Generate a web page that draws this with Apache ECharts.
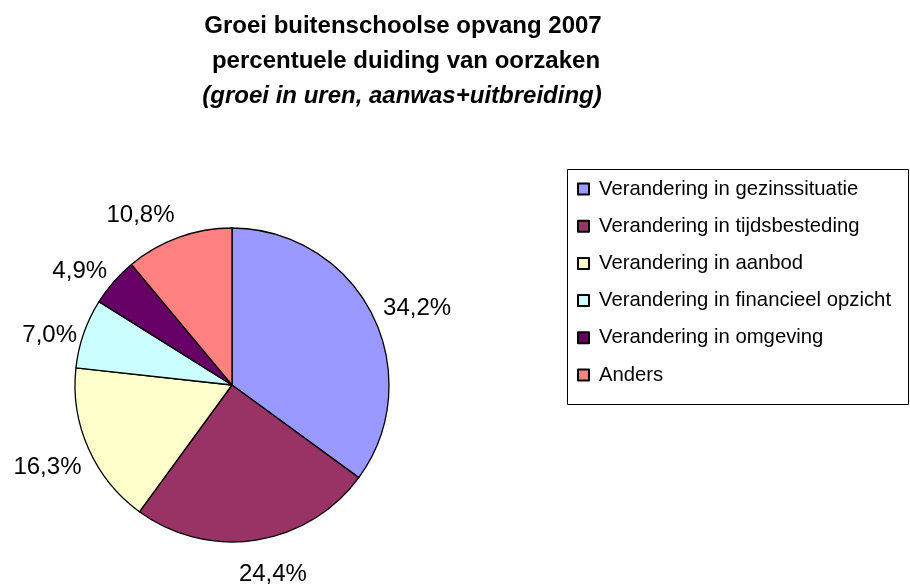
<!DOCTYPE html>
<html>
<head>
<meta charset="utf-8">
<script src="https://cdn.jsdelivr.net/npm/echarts@6/dist/echarts.min.js"></script>
<style>html,body{margin:0;padding:0;background:#fff;}#c{width:910px;height:588px;}</style>
</head>
<body>
<div id="c"></div>
<script>
const categories = [
  'Verandering in gezinssituatie',
  'Verandering in tijdsbesteding',
  'Verandering in aanbod',
  'Verandering in financieel opzicht',
  'Verandering in omgeving',
  'Anders'
];
const values = [34.2, 24.4, 16.3, 7.0, 4.9, 10.8];
const colors = ['#9999FF', '#993366', '#FFFFCC', '#CCFFFF', '#660066', '#FF8080'];
const titleLines = [
  'Groei buitenschoolse opvang 2007',
  'percentuele duiding van oorzaken',
  '(groei in uren, aanwas+uitbreiding)'
];

// label placement style (Excel-like outside-end labels)
const labelShiftDeg = [4.1, -3.4, 0, -3.7, -4.2, -8.3];
const labelOut = [43.8, 35.9, 44.7, 32.2, 33.5, 36.5];

const font = 'Arial, "Liberation Sans", Helvetica, sans-serif';
const pieCenter = [232, 385];
const pieRadius = 157;

const total = values.reduce((a, b) => a + b, 0);
const cum = [];
values.reduce((acc, v, i) => { cum[i] = acc; return acc + v; }, 0);

const chart = echarts.init(document.getElementById('c'), null, {renderer: 'canvas'});
chart.setOption({
  animation: false,
  backgroundColor: '#fff',
  color: colors,
  title: [
    {text: titleLines[0], left: 398, top: 9, textAlign: 'center',
     textStyle: {fontFamily: font, fontSize: 24, fontWeight: 'bold', color: '#000'}},
    {text: titleLines[1], left: 401, top: 44, textAlign: 'center',
     textStyle: {fontFamily: font, fontSize: 24, fontWeight: 'bold', color: '#000'}},
    {text: titleLines[2], left: 397, top: 79, textAlign: 'center',
     textStyle: {fontFamily: font, fontSize: 24, fontWeight: 'bold', fontStyle: 'italic', color: '#000'}}
  ],
  graphic: [{
    type: 'rect', z: -1, silent: true,
    shape: {x: 567.5, y: 169.5, width: 341, height: 235},
    style: {fill: '#fff', stroke: '#000', lineWidth: 1}
  }],
  legend: {
    orient: 'vertical',
    left: 577,
    top: 177,
    padding: 0,
    itemGap: 13.2,
    itemWidth: 11,
    itemHeight: 11,
    icon: 'rect',
    textStyle: {fontFamily: font, fontSize: 20.3, lineHeight: 20, color: '#000', padding: [0, 0, 4, 5]},
    data: categories
  },
  series: [{
    type: 'pie',
    center: pieCenter,
    radius: pieRadius,
    startAngle: 90,
    clockwise: true,
    avoidLabelOverlap: false,
    itemStyle: {borderColor: '#000', borderWidth: 1.3},
    label: {
      show: true,
      position: 'outside',
      fontFamily: font,
      fontSize: 24,
      color: '#000',
      formatter: p => p.value.toFixed(1).replace('.', ',') + '%'
    },
    labelLine: {show: false, length: 8, length2: 0},
    labelLayout: function (p) {
      const i = p.dataIndex;
      const theta = ((cum[i] + values[i] / 2) / total * 360 + labelShiftDeg[i]) * Math.PI / 180;
      const ux = Math.sin(theta), uy = -Math.cos(theta);
      const d = pieRadius + labelOut[i];
      return {x: pieCenter[0] + ux * d, y: pieCenter[1] + uy * d + 1, align: 'center', verticalAlign: 'middle'};
    },
    emphasis: {disabled: true},
    data: categories.map((n, i) => ({name: n, value: values[i]}))
  }]
});
</script>
</body>
</html>
